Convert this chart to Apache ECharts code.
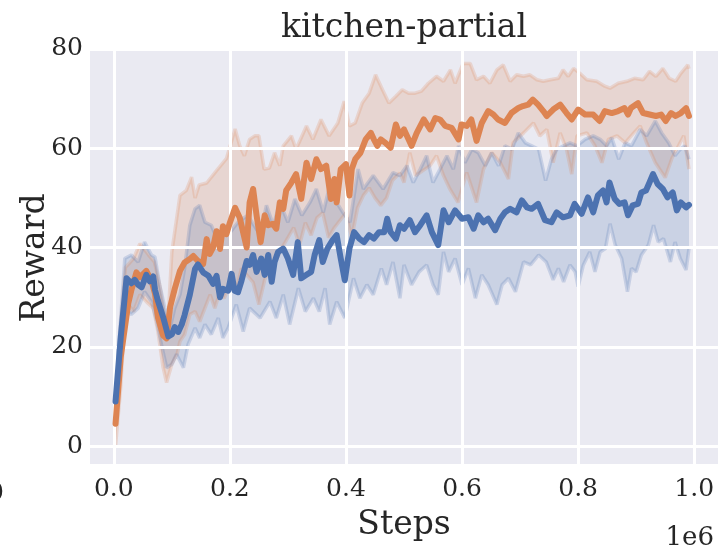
<!DOCTYPE html>
<html>
<head>
<meta charset="utf-8">
<script src="https://cdn.jsdelivr.net/npm/echarts@6/dist/echarts.min.js"></script>
<style>html,body{margin:0;padding:0;background:#fff}#c{width:718px;height:547px}</style>
</head>
<body>
<div id="c"></div>
<script>
// ---- data (steps in units of 1e6) ----
const xTicks = [0, 0.2, 0.4, 0.6, 0.8, 1.0];
const yTicks = [0, 20, 40, 60, 80];

const blueMeanX = [0.003,0.012,0.022,0.03,0.036,0.042,0.048,0.056,0.062,0.068,0.071,0.076,0.085,0.094,0.1,0.105,0.111,0.117,0.122,0.131,0.14,0.145,0.154,0.163,0.171,0.177,0.183,0.188,0.197,0.203,0.208,0.214,0.22,0.229,0.234,0.24,0.246,0.254,0.26,0.266,0.272,0.277,0.283,0.292,0.3,0.309,0.317,0.323,0.332,0.34,0.346,0.354,0.36,0.368,0.377,0.384,0.391,0.398,0.406,0.414,0.423,0.431,0.44,0.448,0.457,0.466,0.471,0.477,0.486,0.493,0.5,0.51,0.519,0.528,0.539,0.548,0.559,0.568,0.577,0.588,0.6,0.611,0.62,0.628,0.637,0.645,0.657,0.666,0.674,0.683,0.694,0.703,0.712,0.72,0.731,0.743,0.754,0.763,0.774,0.786,0.794,0.806,0.817,0.826,0.834,0.843,0.849,0.854,0.863,0.871,0.88,0.886,0.894,0.903,0.909,0.917,0.923,0.929,0.937,0.946,0.954,0.963,0.97,0.977,0.986,0.991];
const blueMeanY = [9,22,33.8,32.8,33.5,32.5,32,34.5,33.2,34.2,31.5,29.3,26,22.1,22.5,24,23,24.5,26.4,30.5,35.7,36.6,35,34.3,32.7,34.3,30,31.7,31.3,34.7,31.3,31,33.3,37.3,36.5,38.5,35.1,37.8,34.5,38.5,33.1,37.1,39.1,39.8,37.8,34.5,41.1,33.8,34.5,35.1,38.5,41.5,37.1,39.8,41.5,42.5,37.8,33.4,39.8,43.1,41.8,41.1,42.5,41.8,43.1,43.1,45.8,43.1,41.8,44.5,43.8,45.5,43.1,44.5,46.5,43.1,40.5,47.5,45.1,47.5,45.8,46.1,43.8,46.5,45.1,45.8,43.5,45.8,47.1,47.8,47.1,49.5,48.1,47.8,48.8,45.5,45.1,47.1,46.1,46.5,48.8,46.8,50.1,47.1,50.5,51.5,49.1,53.1,49.8,48.8,49.1,46.5,48.5,48.8,51.1,51.5,53.1,54.8,52.8,51.8,50.1,51.1,47.5,49.1,48.1,48.6];

const blueUpperX = [0.003,0.012,0.019,0.03,0.042,0.053,0.065,0.071,0.079,0.088,0.097,0.105,0.114,0.122,0.131,0.14,0.148,0.157,0.168,0.18,0.19,0.2,0.214,0.231,0.252,0.263,0.275,0.286,0.3,0.312,0.324,0.338,0.349,0.361,0.372,0.384,0.395,0.407,0.421,0.43,0.447,0.464,0.481,0.493,0.505,0.516,0.528,0.539,0.55,0.562,0.574,0.585,0.594,0.605,0.617,0.628,0.64,0.651,0.663,0.674,0.686,0.697,0.709,0.72,0.732,0.744,0.754,0.763,0.775,0.786,0.798,0.812,0.826,0.838,0.849,0.858,0.87,0.881,0.892,0.907,0.918,0.933,0.944,0.956,0.967,0.976,0.984,0.991];
const blueUpperY = [12,26,37.8,38.5,37.1,41.1,38.5,38.1,32.5,27.8,23.8,27.8,30.5,35.8,44.5,47.8,48.5,45.1,44.5,41.1,44.5,43,45.1,46.5,42.5,48.5,44.5,49.1,45.1,49.8,46.5,49.1,51.8,47.1,52.5,49.1,47,45.1,55.8,51.8,54.5,51.8,55.1,54.5,56.5,53.1,55.8,58.5,53.1,55.8,58.5,55.8,60.5,57.1,59.8,59.1,56.5,59.1,56.5,60.5,59.8,63.1,61.1,60.5,59.8,53.5,57.8,59.8,60.5,61.1,60.5,61.8,62.5,61.8,60.5,62.1,57.8,61.1,60.5,63.8,62.5,65.5,63.1,61.1,58.5,59.8,60.5,57.8];

const blueLowerX = [0.003,0.012,0.019,0.03,0.042,0.053,0.065,0.074,0.082,0.091,0.1,0.108,0.12,0.128,0.14,0.148,0.157,0.168,0.18,0.188,0.197,0.211,0.223,0.234,0.252,0.269,0.28,0.292,0.303,0.318,0.33,0.344,0.354,0.364,0.372,0.384,0.398,0.413,0.424,0.436,0.447,0.461,0.47,0.481,0.493,0.5,0.513,0.526,0.539,0.55,0.559,0.568,0.577,0.588,0.6,0.611,0.623,0.634,0.645,0.66,0.669,0.68,0.692,0.706,0.718,0.732,0.745,0.757,0.766,0.775,0.786,0.795,0.8,0.809,0.82,0.829,0.838,0.847,0.855,0.864,0.875,0.885,0.892,0.9,0.909,0.921,0.93,0.938,0.947,0.959,0.967,0.976,0.986,0.991];
const blueLowerY = [5,16,27.8,26.5,27.8,31.1,29.1,25.1,20.5,15.8,16.5,18.5,15.8,20.5,23.8,21.8,24.5,22.5,25.8,21.8,23.8,28.5,23.1,27.8,25.8,29.1,25.8,30.5,24.5,31.8,27.1,29.8,27.1,31.8,24.5,29.1,25.8,33.8,29.8,32.5,30.5,35.8,32.5,37.1,29.8,36.5,32.5,35.1,36.5,32.5,30.5,39.1,35.1,37.8,32.5,35.8,29.8,34.5,32.5,28.5,32.5,33.8,31.1,37.1,36.5,38.5,37.1,33.5,35.8,33.1,36.5,35.1,32.1,36.5,39.1,35.1,39.1,39.8,44.8,40.5,37.8,31.1,35.8,35.1,38.5,40.5,44.5,41.1,41.8,37.1,41.1,37.8,35.5,39.8];

const orangeMeanX = [0.003,0.012,0.025,0.03,0.039,0.045,0.056,0.065,0.071,0.076,0.085,0.091,0.097,0.105,0.114,0.122,0.131,0.137,0.145,0.154,0.16,0.165,0.171,0.177,0.183,0.188,0.194,0.2,0.209,0.217,0.229,0.234,0.24,0.246,0.253,0.26,0.266,0.274,0.28,0.286,0.292,0.297,0.306,0.314,0.323,0.332,0.34,0.349,0.357,0.366,0.374,0.38,0.384,0.391,0.4,0.406,0.41,0.416,0.425,0.434,0.443,0.448,0.454,0.46,0.468,0.477,0.486,0.493,0.5,0.513,0.522,0.534,0.545,0.554,0.562,0.571,0.582,0.594,0.599,0.608,0.616,0.625,0.634,0.645,0.654,0.662,0.674,0.685,0.697,0.705,0.714,0.722,0.731,0.74,0.746,0.757,0.769,0.78,0.789,0.8,0.812,0.826,0.837,0.846,0.858,0.869,0.88,0.886,0.891,0.903,0.912,0.923,0.934,0.943,0.951,0.96,0.968,0.977,0.986,0.991];
const orangeMeanY = [4.5,18,28.8,31.3,35,34,35.3,33.3,30.7,26,22.3,21.7,28,31.7,35.3,37,37.7,38.3,37.3,36.7,41.7,38.7,40,43.3,39.7,44.3,42.7,45,48,46,40,49.1,51.8,46.5,41.1,46.5,44.5,44.8,43.8,49.1,47.8,51.5,53.1,54.8,49.8,57.1,53.8,57.8,55.8,56.5,49.8,53.8,49.1,55.8,56.8,50.5,55.8,57.8,59.1,61.8,63.1,61.8,60.5,61.8,61.1,60.1,64.8,62.5,63.8,60.5,63.1,65.8,63.8,66.1,65.8,64.5,64.1,61.8,64.8,64.5,65.8,61.5,65.1,67.5,66.8,65.8,65.1,67.1,68.1,68.5,68.8,69.8,68.8,67.5,66.5,67.8,68.8,67.1,65.8,67.8,66.8,66.8,65.5,67.5,67.1,67.5,68.1,66.8,68.1,69.1,67.1,66.8,66.5,66.8,65.5,67.1,66.5,67.1,68.1,66.5];

const orangeUpperX = [0.003,0.012,0.02,0.028,0.034,0.045,0.06,0.07,0.079,0.087,0.093,0.1,0.114,0.125,0.134,0.14,0.147,0.16,0.177,0.194,0.209,0.217,0.225,0.234,0.243,0.25,0.259,0.268,0.277,0.286,0.292,0.306,0.314,0.332,0.343,0.357,0.371,0.386,0.397,0.406,0.416,0.428,0.44,0.451,0.463,0.474,0.486,0.497,0.508,0.519,0.53,0.542,0.556,0.568,0.58,0.588,0.602,0.614,0.625,0.637,0.648,0.66,0.671,0.683,0.694,0.706,0.717,0.729,0.74,0.752,0.766,0.774,0.783,0.792,0.803,0.815,0.832,0.846,0.855,0.869,0.884,0.897,0.912,0.923,0.934,0.946,0.957,0.968,0.977,0.989,0.991];
const orangeUpperY = [8,25,36,37,37.8,40.8,38.5,37.1,32.5,26.5,24.5,39.1,50.5,51.5,54.2,50,52.6,53,55.5,57.9,63.9,60.5,58.5,61.8,62.5,62.5,55.8,56,59.1,56.5,60.5,62.5,59.8,64.5,61.8,65.8,62.5,65.1,69.5,64.5,65.1,69.1,71.1,74.8,71.8,69.1,70.5,71.8,71.1,71.1,71.5,73.1,74.5,73.5,75.8,73.1,77.1,77.1,73.8,74.5,73.1,75.8,76.8,73.5,74.8,74.5,74.8,73.8,73.5,73.8,74.1,75.8,74.5,76.1,75.1,73.8,73.5,72.5,72.1,73.1,73.5,74.1,73.8,75.5,74.5,76.1,74.1,73.5,75.1,76.8,76];

const orangeLowerX = [0.003,0.012,0.02,0.028,0.034,0.045,0.056,0.068,0.076,0.085,0.091,0.1,0.109,0.114,0.122,0.131,0.14,0.148,0.157,0.166,0.174,0.183,0.19,0.203,0.21,0.22,0.229,0.24,0.25,0.26,0.27,0.28,0.29,0.3,0.31,0.32,0.33,0.34,0.35,0.36,0.37,0.38,0.39,0.4,0.41,0.42,0.43,0.44,0.45,0.46,0.47,0.48,0.493,0.5,0.51,0.52,0.545,0.556,0.568,0.579,0.593,0.608,0.625,0.637,0.651,0.666,0.68,0.688,0.706,0.723,0.734,0.746,0.757,0.769,0.78,0.789,0.798,0.815,0.829,0.841,0.852,0.867,0.881,0.896,0.907,0.918,0.933,0.95,0.962,0.973,0.982,0.991];
const orangeLowerY = [0,12,27.8,28.1,27.1,30.5,29.1,27.8,23.1,15.8,12.8,16.5,18.5,21.1,22.5,26.5,27.1,25.1,27.8,30.5,27.8,31.1,29.8,33.1,31.1,35.8,34.5,33,28.5,33.5,36,37.5,40,42,44,40.5,45,42.5,46,47,42,44,45.5,47,42,48,50.5,52,50,48.5,50,53.5,55,53.1,59.1,54.5,56.5,58.5,54.5,51.8,49.1,55.1,49.1,55.8,59.1,57.1,53.8,61.1,63.1,65.1,62.5,63.8,57.1,63.1,59.8,54.8,62.5,63.1,60.5,57.1,61.8,62.5,61.1,63.1,64.5,61.1,57.1,54.1,58.1,60.5,62.5,55.8];

// ---- styling ----
const BLUE = '#4c72b0', ORANGE = '#dd8452', TXT = '#262626', FONT = 'DejaVu Serif';
const zip = (xs, ys) => xs.map((x, i) => [x, ys[i]]);

function bandSeries(upX, upY, loX, loY, color) {
  return {
    type: 'custom', coordinateSystem: 'cartesian2d', silent: true, z: 3,
    data: [[upX[0], upY[0]]],
    renderItem: function (params, api) {
      const pts = [];
      for (let i = 0; i < upX.length; i++) pts.push(api.coord([upX[i], upY[i]]));
      for (let i = loX.length - 1; i >= 0; i--) pts.push(api.coord([loX[i], loY[i]]));
      return { type: 'polygon', shape: { points: pts }, style: { fill: color, opacity: 0.2 } };
    }
  };
}
function edgeSeries(xs, ys, color) {
  return { type: 'line', data: zip(xs, ys), showSymbol: false, silent: true, z: 4,
    lineStyle: { color: color, width: 3.5, opacity: 0.22 } };
}
function meanSeries(xs, ys, color, z) {
  return { type: 'line', data: zip(xs, ys), showSymbol: false, silent: true, z: z,
    lineStyle: { color: color, width: 6, cap: 'round', join: 'round' } };
}

const gridLines = yTicks.map(v => ({ yAxis: v })).concat(xTicks.map(v => ({ xAxis: v })));

const chart = echarts.init(document.getElementById('c'), null, { renderer: 'canvas' });
chart.setOption({
  animation: false,
  backgroundColor: '#ffffff',
  grid: { left: 90, top: 48, right: 0, bottom: 80, show: true, backgroundColor: '#eaeaf2', borderWidth: 0 },
  xAxis: {
    type: 'value', min: -0.041, max: 1.041,
    axisLine: { show: false }, axisTick: { show: false }, splitLine: { show: false },
    axisLabel: { customValues: xTicks, formatter: v => v.toFixed(1), fontFamily: FONT, fontSize: 25, color: TXT, margin: 13 },
    name: 'Steps', nameLocation: 'middle', nameGap: 45,
    nameTextStyle: { fontFamily: FONT, fontSize: 33, color: TXT }
  },
  yAxis: {
    type: 'value', min: -3.6, max: 80.2,
    axisLine: { show: false }, axisTick: { show: false }, splitLine: { show: false },
    axisLabel: { customValues: yTicks, formatter: v => String(v), fontFamily: FONT, fontSize: 25, color: TXT, margin: 7 }
  },
  graphic: [
    { type: 'text', x: 404, y: 28, style: { text: 'kitchen-partial', fontFamily: FONT, fontSize: 33, fill: TXT, textAlign: 'center', textVerticalAlign: 'middle' } },
    { type: 'text', x: 35, y: 258, rotation: Math.PI / 2, style: { text: 'Reward', fontFamily: FONT, fontSize: 33, fill: TXT, textAlign: 'center', textVerticalAlign: 'middle' } },
    { type: 'text', x: 714, y: 538, style: { text: '1e6', fontFamily: FONT, fontSize: 26, fill: TXT, textAlign: 'right', textVerticalAlign: 'middle' } },
    { type: 'text', x: -12, y: 493, style: { text: '0', fontFamily: FONT, fontSize: 25, fill: TXT, textAlign: 'left', textVerticalAlign: 'middle' } }
  ],
  series: [
    { type: 'line', data: [[0, 0]], showSymbol: false, silent: true, z: 1, lineStyle: { opacity: 0 },
      markLine: { silent: true, symbol: ['none', 'none'], label: { show: false }, animation: false,
        lineStyle: { color: '#ffffff', width: 3, type: 'solid' }, data: gridLines } },
    bandSeries(orangeUpperX, orangeUpperY, orangeLowerX, orangeLowerY, ORANGE),
    edgeSeries(orangeUpperX, orangeUpperY, ORANGE),
    edgeSeries(orangeLowerX, orangeLowerY, ORANGE),
    bandSeries(blueUpperX, blueUpperY, blueLowerX, blueLowerY, BLUE),
    edgeSeries(blueUpperX, blueUpperY, BLUE),
    edgeSeries(blueLowerX, blueLowerY, BLUE),
    meanSeries(orangeMeanX, orangeMeanY, ORANGE, 6),
    meanSeries(blueMeanX, blueMeanY, BLUE, 7)
  ]
});
</script>
</body>
</html>
